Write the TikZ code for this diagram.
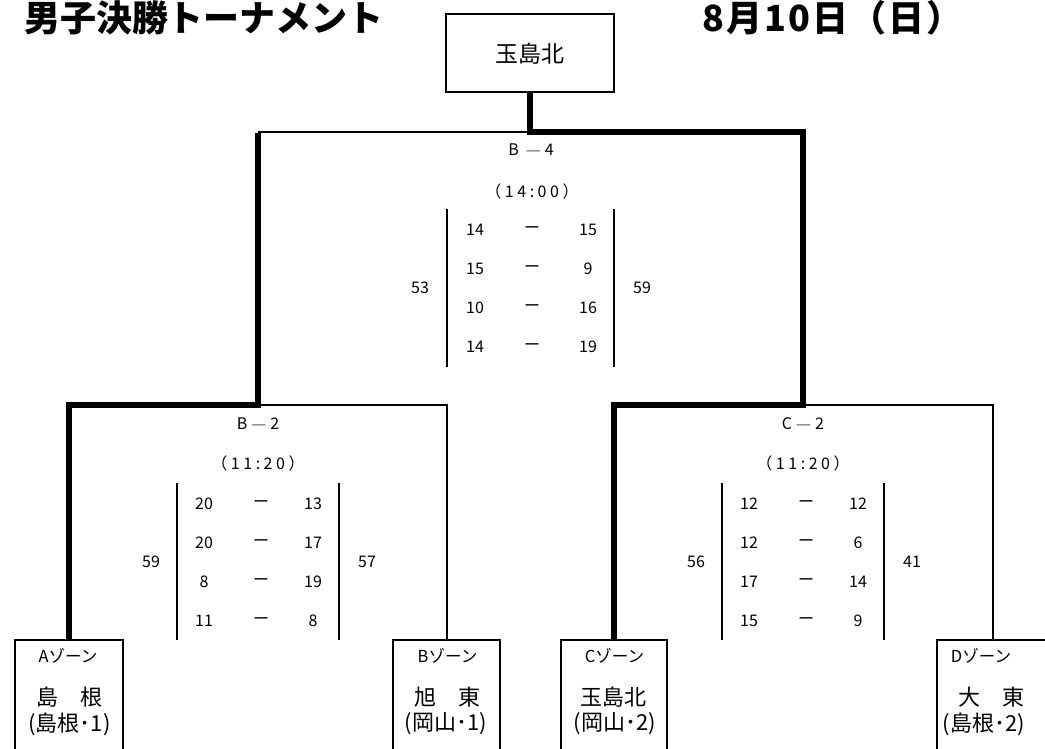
\documentclass[tikz,border=0pt]{standalone}
\usepackage{fontspec}
\setmainfont{Noto Sans CJK JP}
\newcommand{\lowdash}{\hspace{3.5pt}\raisebox{-2pt}{―}\hspace{3.5pt}}
\begin{document}
\begin{tikzpicture}[x=1pt,y=-1pt,
  every node/.style={inner sep=0pt, outer sep=0pt},
  thinl/.style={line width=2pt},
  barl/.style={line width=1.5pt},
  winl/.style={line width=6pt, line join=miter},
  zbox/.style={draw, line width=2pt, minimum width=#1, minimum height=122pt},
  ttl/.style={font=\fontsize{36}{40}\selectfont\bfseries},
  zlab/.style={font=\fontsize{16.5}{18}\selectfont},
  tname/.style={font=\fontsize{22}{24}\selectfont},
  mlab/.style={font=\fontsize{16}{18}\selectfont\addfontfeatures{LetterSpace=22}},
  sc/.style={font=\fontsize{16}{18}\selectfont}]
\useasboundingbox (0,0) rectangle (1045,749);
% titles
\node[ttl, anchor=west] (title) at (24,18) {男子決勝トーナメント};
\node[ttl, anchor=west] (date) at (702,18) {\addfontfeatures{LetterSpace=6}8月10日（日）};
% winner box
\node[draw, line width=2pt, minimum width=168pt, minimum height=78pt,
      font=\fontsize{23}{25}\selectfont] (top) at (530,53.3) {玉島北};
% zone boxes (open below the page)
\node[zbox=108pt] (A) at (69,701) {};
\node[zbox=107pt] (B) at (446.5,701) {};
\node[zbox=106pt] (C) at (614,701) {};
\node[zbox=112pt] (D) at (993,701) {};
% junctions
\coordinate (f)  at (530,132);
\coordinate (fl) at (258,132);
\coordinate (fr) at (803,132);
\coordinate (bl) at (258,405);
\coordinate (cl) at (803,405);
\coordinate (ba) at (69,405);
\coordinate (bb) at (446.5,405);
\coordinate (cc) at (614,405);
\coordinate (cd) at (993,405);
% connectors
\draw[thinl] (fl) -- (f);
\draw[thinl] (bl) -- (bb) -- (B.north);
\draw[thinl] (cl) -- (cd) -- (D.north);
\draw[winl] (top.south) -- (f) -- (fr) -- (cl) -- (cc) -- (C.north);
\draw[winl] ([yshift=-1pt]fl) -- (bl) -- (ba) -- (A.north);
% zone texts
\node[zlab] (az) at (68,656) {Aゾーン};
\node[tname] (an) at (69,697) {島　根};
\node[tname] (ap) at (69.5,724) {(島根･1)};
\node[zlab] (bz) at (447.5,656) {Bゾーン};
\node[tname] (bn) at (447.5,697) {旭　東};
\node[tname] (bp) at (446,724) {(岡山･1)};
\node[zlab] (cz) at (614.5,656) {Cゾーン};
\node[tname] (cn) at (613,697) {玉島北};
\node[tname] (cp) at (615,724) {(岡山･2)};
\node[zlab] (dz) at (981,656) {Dゾーン};
\node[tname] (dn) at (991,697) {大　東};
\node[tname] (dp) at (984,724) {(島根･2)};
% B-4
\node[mlab] (m4) at (531,151) {B\hspace{3pt}\lowdash4};
\node[mlab] (t4) at (532,191) {（14:00）};
\draw[barl] (447,209) -- (447,367);
\draw[barl] (614,209) -- (614,367);
\foreach \y/\a/\b in {230/14/15, 269/15/9, 308/10/16, 347/14/19}{
  \node[sc] at (475,\y) {\a};
  \node[sc] at (532,\y) {\raisebox{-1.5pt}{ー}};
  \node[sc] at (588,\y) {\b};
}
\node[sc] (s4l) at (420,288) {53};
\node[sc] (s4r) at (642,288) {59};
% B-2
\node[mlab] (m2) at (258,425) {B\lowdash2};
\node[mlab] (t2) at (258,463) {（11:20）};
\draw[barl] (177,483) -- (177,640);
\draw[barl] (339,483) -- (339,640);
\foreach \y/\a/\b in {504/20/13, 543/20/17, 582/8/19, 621/11/8}{
  \node[sc] at (204,\y) {\a};
  \node[sc] at (261,\y) {\raisebox{-1.5pt}{ー}};
  \node[sc] at (313,\y) {\b};
}
\node[sc] (s2l) at (151,562) {59};
\node[sc] (s2r) at (367,562) {57};
% C-2
\node[mlab] (mc) at (803,425) {C\lowdash2};
\node[mlab] (tc) at (803,463) {（11:20）};
\draw[barl] (722,483) -- (722,640);
\draw[barl] (884,483) -- (884,640);
\foreach \y/\a/\b in {504/12/12, 543/12/6, 582/17/14, 621/15/9}{
  \node[sc] at (749,\y) {\a};
  \node[sc] at (806,\y) {\raisebox{-1.5pt}{ー}};
  \node[sc] at (858,\y) {\b};
}
\node[sc] (scl) at (696,562) {56};
\node[sc] (scr) at (912,562) {41};
\end{tikzpicture}
\end{document}
